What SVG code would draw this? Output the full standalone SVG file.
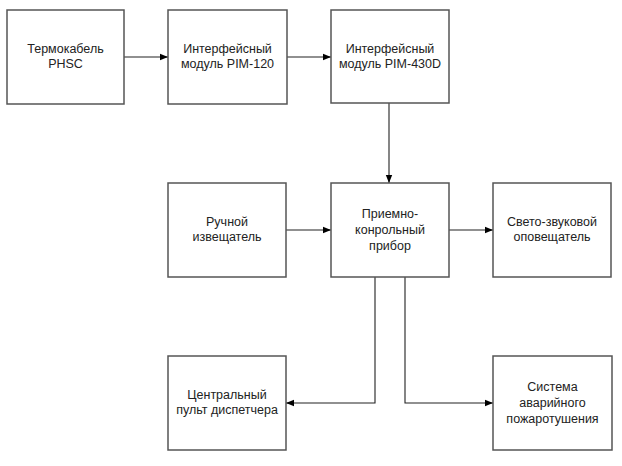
<svg xmlns="http://www.w3.org/2000/svg" width="622" height="466" viewBox="0 0 622 466">
<defs>
<marker id="arr" viewBox="0 0 10 10" refX="10" refY="5" markerWidth="8" markerHeight="8" markerUnits="userSpaceOnUse" orient="auto">
<path d="M0,1 L10,5 L0,9 Z" fill="#000"/>
</marker>
<style>
.box{fill:#fff;stroke:#555;stroke-width:1.5}
.t{font-family:"Liberation Sans",Arial,sans-serif;font-size:12.5px;fill:#222;text-anchor:middle}
.c{fill:none;stroke:#222;stroke-width:1.1;marker-end:url(#arr)}
</style>
</defs>
<rect width="622" height="466" fill="#fff"/>
<g id="connectors">
<path class="c" d="M124,57 L168,57"/>
<path class="c" d="M287,57 L331,57"/>
<path class="c" d="M389,103 L389,183"/>
<path class="c" d="M286,230 L331,230"/>
<path class="c" d="M449,230 L493,230"/>
<path class="c" d="M375,277 L375,403 L286,403"/>
<path class="c" d="M405,277 L405,403 L493,403"/>
</g>
<g id="termokabel">
<rect class="box" x="7" y="10" width="117" height="94"/>
<text class="t" x="65.5" y="53">Термокабель</text>
<text class="t" x="65.5" y="68">PHSC</text>
</g>
<g id="pim120">
<rect class="box" x="168" y="10" width="119" height="94"/>
<text class="t" x="227.5" y="53">Интерфейсный</text>
<text class="t" x="227.5" y="68">модуль PIM-120</text>
</g>
<g id="pim430d">
<rect class="box" x="331" y="10" width="118" height="93"/>
<text class="t" x="390" y="53">Интерфейсный</text>
<text class="t" x="390" y="68">модуль PIM-430D</text>
</g>
<g id="ruchnoy">
<rect class="box" x="168" y="183" width="118" height="94"/>
<text class="t" x="227" y="226">Ручной</text>
<text class="t" x="227" y="241">извещатель</text>
</g>
<g id="ppk">
<rect class="box" x="331" y="183" width="118" height="94"/>
<text class="t" x="390" y="218">Приемно-</text>
<text class="t" x="390" y="234">конрольный</text>
<text class="t" x="390" y="250">прибор</text>
</g>
<g id="opoveshatel">
<rect class="box" x="493" y="183" width="118" height="94"/>
<text class="t" x="552" y="226">Свето-звуковой</text>
<text class="t" x="552" y="241">оповещатель</text>
</g>
<g id="pult">
<rect class="box" x="168" y="356" width="118" height="94"/>
<text class="t" x="227" y="399">Центральный</text>
<text class="t" x="227" y="414">пульт диспетчера</text>
</g>
<g id="pozharotushenie">
<rect class="box" x="493" y="356" width="119" height="94"/>
<text class="t" x="552.5" y="391">Система</text>
<text class="t" x="552.5" y="407">аварийного</text>
<text class="t" x="552.5" y="423">пожаротушения</text>
</g>
</svg>
